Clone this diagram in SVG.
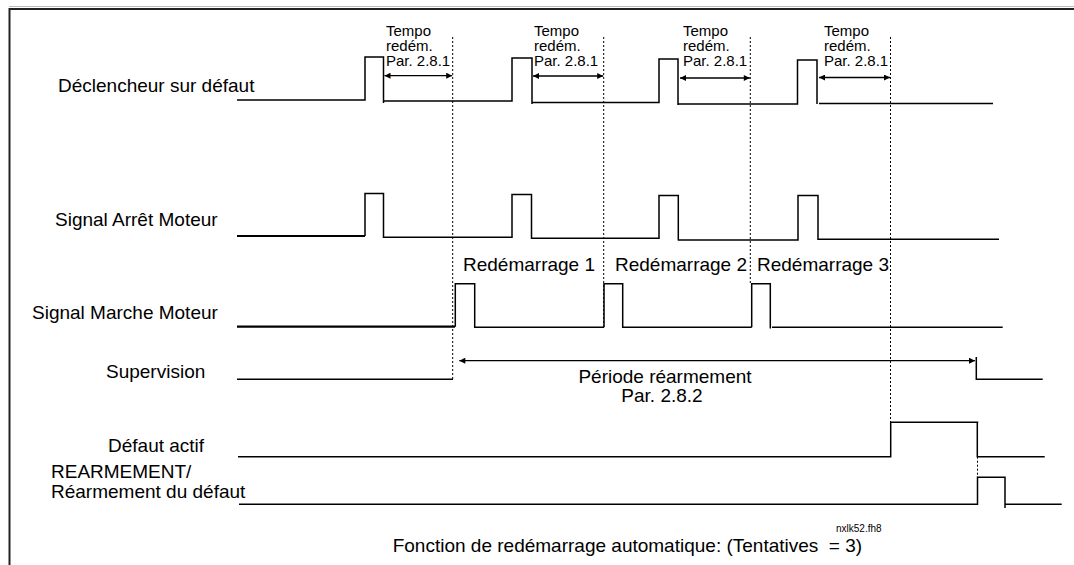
<svg xmlns="http://www.w3.org/2000/svg" width="1074" height="565" viewBox="0 0 1074 565">
<style>
  text { font-family: "Liberation Sans", Arial, sans-serif; fill: #000; }
  .lbl { font-size: 19px; }
  .sm { font-size: 15px; }
  .tiny { font-size: 10px; }
  .sig { fill: none; stroke: #000; stroke-width: 1.5; }
  .thick { fill: none; stroke: #000; stroke-width: 2.2; }
  .dot { fill: none; stroke: #000; stroke-width: 1; stroke-dasharray: 2 2; }
  .arr { fill: none; stroke: #000; stroke-width: 1.3; marker-start: url(#ah); marker-end: url(#ah); }
  .frame { fill: none; stroke: #222; stroke-width: 2; }
</style>
<defs>
  <marker id="ah" viewBox="0 0 10 10" refX="10" refY="5" markerWidth="7" markerHeight="6" markerUnits="userSpaceOnUse" orient="auto-start-reverse">
    <path d="M0,0 L10,5 L0,10 z" fill="#000"/>
  </marker>
</defs>
<rect width="1074" height="565" fill="#fff"/>
<g id="frame">
  <line x1="9" y1="6.5" x2="1074" y2="6.5" stroke="#bbb" stroke-width="1"/>
  <polyline class="frame" points="9.5,565 9.5,9 1074,9"/>
</g>

<g id="labels">
  <text class="lbl" x="58" y="92">Déclencheur sur défaut</text>
  <text class="lbl" x="55" y="226">Signal Arrêt Moteur</text>
  <text class="lbl" x="32" y="319">Signal Marche Moteur</text>
  <text class="lbl" x="106" y="378">Supervision</text>
  <text class="lbl" x="108" y="452">Défaut actif</text>
  <text class="lbl" x="51" y="478">REARMEMENT/</text>
  <text class="lbl" x="51" y="498">Réarmement du défaut</text>
</g>

<g id="trigger">
  <polyline class="sig" points="237,100 365,100 365,57 383.5,57 383.5,103"/>
  <polyline class="sig" points="383.5,101 512,101 512,58 532,58 532,104"/>
  <polyline class="sig" points="532,102.5 659,102.5 659,59 678,59 678,105"/>
  <polyline class="sig" points="678,104 797.5,104 797.5,60 817,60 817,104"/>
  <polyline class="sig" points="819,103.5 993,103.5"/>
</g>

<g id="tempo">
  <text class="sm" x="386" y="36">Tempo</text>
  <text class="sm" x="386" y="51">redém.</text>
  <text class="sm" x="386" y="66">Par. 2.8.1</text>
  <text class="sm" x="534" y="36">Tempo</text>
  <text class="sm" x="534" y="51">redém.</text>
  <text class="sm" x="534" y="66">Par. 2.8.1</text>
  <text class="sm" x="683" y="36">Tempo</text>
  <text class="sm" x="683" y="51">redém.</text>
  <text class="sm" x="683" y="66">Par. 2.8.1</text>
  <text class="sm" x="824" y="36">Tempo</text>
  <text class="sm" x="824" y="51">redém.</text>
  <text class="sm" x="824" y="66">Par. 2.8.1</text>
</g>

<g id="stop">
  <polyline class="thick" points="237,236 365,236"/>
  <polyline class="sig" points="365,236 365,193.5 383.5,193.5 383.5,238"/>
  <polyline class="sig" points="383.5,237.3 512,237.3 512,194.5 531.5,194.5 531.5,239"/>
  <polyline class="sig" points="531.5,238.3 659,238.3 659,195.5 678.3,195.5 678.3,240.5"/>
  <polyline class="sig" points="678.3,240 798,240 798,195.5 818,195.5 818,240"/>
  <polyline class="sig" points="818,239.3 999,239.3"/>
</g>

<g id="run">
  <text class="lbl" x="463" y="271">Redémarrage 1</text>
  <text class="lbl" x="615" y="271">Redémarrage 2</text>
  <text class="lbl" x="757" y="271">Redémarrage 3</text>
  <polyline class="thick" points="237,326.7 455,326.7"/>
  <polyline class="sig" points="455.3,326.7 455.3,283.7 474.7,283.7 474.7,327.3 604,327.3"/>
  <polyline class="sig" points="604,327.3 604,283.7 622.7,283.7 622.7,327.3 751.7,327.3"/>
  <polyline class="sig" points="751.7,327.3 751.7,283.7 770.3,283.7 770.3,328.5"/>
  <polyline class="sig" points="772,327.3 1002.7,327.3"/>
</g>

<g id="supervision">
  <polyline class="sig" points="237,379.3 453,379.3"/>
  <line class="arr" x1="459.3" y1="360.7" x2="975" y2="360.7"/>
  <polyline class="sig" points="976.3,357 976.3,379.3 1042.7,379.3"/>
  <text class="lbl" x="665" y="383" text-anchor="middle">Période réarmement</text>
  <text class="lbl" x="662" y="402" text-anchor="middle">Par. 2.8.2</text>
</g>

<g id="fault">
  <polyline class="sig" points="238,456.7 890.7,456.7 890.7,422.3 978.3,422.3"/>
  <polyline class="sig" points="977.3,422.3 977.3,456.7 1044.7,456.7"/>
</g>

<g id="reset">
  <polyline class="sig" points="239,504.3 977.5,504.3 977.5,477.3 1005,477.3 1005,508"/>
  <polyline class="sig" points="1005,504.3 1061.7,504.3"/>
</g>

<g id="connectors">
  <line class="dot" x1="452.7" y1="37" x2="452.7" y2="379"/>
  <line class="dot" x1="603.7" y1="37" x2="603.7" y2="327"/>
  <line class="dot" x1="750.3" y1="37" x2="750.3" y2="283.7"/>
  <line class="dot" x1="890.5" y1="37" x2="890.5" y2="422.3"/>
  <line class="dot" x1="977.5" y1="456.7" x2="977.5" y2="477.3"/>
  <line class="arr" x1="384.5" y1="75.7" x2="452.2" y2="75.7"/>
  <line class="arr" x1="533" y1="76" x2="603.2" y2="76"/>
  <line class="arr" x1="680" y1="78" x2="749.8" y2="78"/>
  <line class="arr" x1="819" y1="77.5" x2="890" y2="77.5"/>
</g>

<g id="captions">
  <text class="tiny" x="836" y="531.5">nxlk52.fh8</text>
  <text class="lbl" x="392.7" y="551.5" xml:space="preserve">Fonction de redémarrage automatique: (Tentatives  = 3)</text>
</g>
</svg>
